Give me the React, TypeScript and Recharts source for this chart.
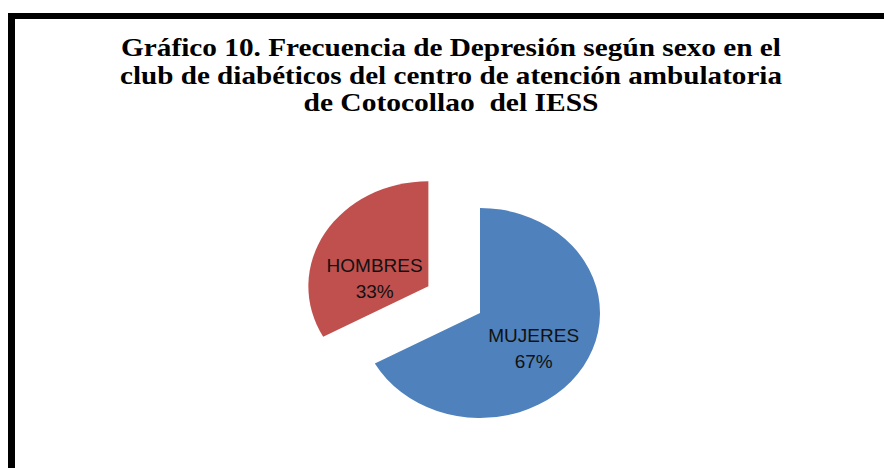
import { PieChart, Pie, Cell, Sector } from 'recharts';

const sexLabels = ['MUJERES', 'HOMBRES'];
const sexValues = [67, 33];
const titleLines = [
  'Gráfico 10. Frecuencia de Depresión según sexo en el',
  'club de diabéticos del centro de atención ambulatoria',
  'de Cotocollao  del IESS',
];

const COLORS = ['#4F81BD', '#C0504D'];
const EXPLODE = [0, 60]; // px the slice is pulled out, per slice
const LABEL_NUDGE = [0, 13]; // extra vertical shift of each label
const SQUASH = 0.875; // pie is drawn slightly flattened
const RADIAN = Math.PI / 180;

const data = sexLabels.map((name, i) => ({ name, value: sexValues[i] }));

function offsetFor(index: number, midAngle: number) {
  const d = EXPLODE[index] || 0;
  return {
    dx: d * Math.cos(-midAngle * RADIAN),
    dy: d * Math.sin(-midAngle * RADIAN) * SQUASH,
  };
}

function FlatSector(props: any) {
  const { cx, cy, midAngle, index } = props;
  const { dx, dy } = offsetFor(index, midAngle);
  return (
    <g transform={`translate(${cx + dx} ${cy + dy}) scale(1 ${SQUASH}) translate(${-cx} ${-cy})`}>
      <Sector {...props} stroke="none" />
    </g>
  );
}

function renderLabel(props: any) {
  const { cx, cy, midAngle, outerRadius, index, name, percent } = props;
  const { dx, dy } = offsetFor(index, midAngle);
  const r = outerRadius * 0.52;
  const x = cx + dx + r * Math.cos(-midAngle * RADIAN);
  const y = cy + dy + r * Math.sin(-midAngle * RADIAN) * SQUASH + 5 + (LABEL_NUDGE[index] || 0);
  return (
    <text
      x={x}
      y={y}
      textAnchor="middle"
      fill="#111"
      style={{ fontFamily: '"Liberation Sans", Arial, sans-serif', fontSize: 19 }}
    >
      <tspan x={x} dy={-4}>{name}</tspan>
      <tspan x={x} dy={26}>{`${Math.round(percent * 100)}%`}</tspan>
    </text>
  );
}

export default function App() {
  return (
    <div style={{ position: 'absolute', left: 0, top: 0, width: 884, height: 468, background: '#fff', overflow: 'hidden' }}>
      <div
        style={{
          position: 'absolute',
          left: 8,
          top: 13,
          width: 900,
          height: 500,
          borderLeft: '7px solid #000',
          borderTop: '6px solid #000',
        }}
      />
      <svg width={884} height={468} style={{ position: 'absolute', left: 0, top: 0 }}>
        {titleLines.map((line, i) => (
          <text
            key={i}
            x={451}
            y={56 + i * 27.7}
            textAnchor="middle"
            textLength={[660, 662, 295][i]}
            lengthAdjust="spacingAndGlyphs"
            style={{
              fontFamily: '"Liberation Serif", "Times New Roman", serif',
              fontWeight: 'bold',
              fontSize: 24.5,
              whiteSpace: 'pre',
            }}
            fill="#000"
          >
            {line}
          </text>
        ))}
      </svg>
      <div style={{ position: 'absolute', left: 0, top: 0 }}>
        <PieChart width={884} height={468} margin={{ top: 0, right: 0, bottom: 0, left: 0 }}>
          <Pie
            data={data}
            dataKey="value"
            nameKey="name"
            cx={480}
            cy={313}
            outerRadius={120}
            startAngle={90}
            endAngle={-270}
            shape={FlatSector}
            label={renderLabel}
            labelLine={false}
            isAnimationActive={false}
          >
            {data.map((_, i) => (
              <Cell key={i} fill={COLORS[i]} />
            ))}
          </Pie>
        </PieChart>
      </div>
    </div>
  );
}
